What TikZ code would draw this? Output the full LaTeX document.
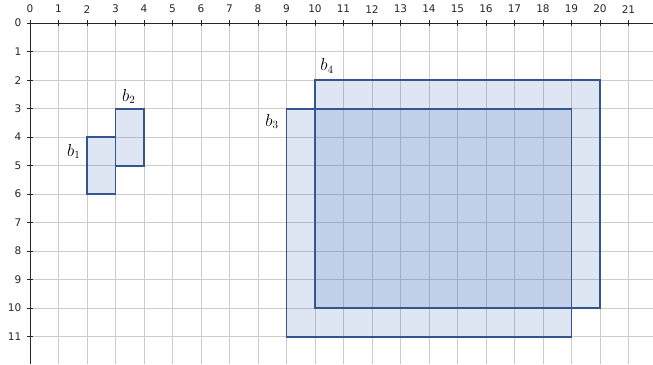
\documentclass[tikz,border=0pt]{standalone}
\usepackage{fontspec}
\newfontfamily\tickfont{DejaVu Sans}
\usetikzlibrary{positioning}
\definecolor{BoxEdge}  {HTML}{34558F}
\definecolor{BoxFill}  {HTML}{486FBC}
\definecolor{GridGray} {HTML}{CCCCCC}
\definecolor{AxisDark} {HTML}{262626}
\tikzset{
  gridln/.style={draw=GridGray, line width=0.7pt},
  axisln/.style={draw=AxisDark, line width=0.8pt},
  tck/.style={
    font=\tickfont\fontsize{10.5}{12}\selectfont, text=AxisDark,
    inner sep=1pt,
  },
  bfill/.style={fill=BoxFill, fill opacity=0.18},
  bedge/.style={draw=BoxEdge, line width=1.8pt},
  blbl/.style={font=\fontsize{16}{18}\selectfont, inner sep=0pt},
}

\begin{document}
\begin{tikzpicture}[x=1cm,y=-1cm]
    \useasboundingbox (-1.05,-0.81) rectangle (21.86,11.97);
    % grid
    \foreach \i in {0,...,21} \draw[gridln] (\i,0) -- (\i,11.97);
    \foreach \j in {0,...,11} \draw[gridln] (0,\j) -- (21.86,\j);

    % boxes
    \foreach \xa/\ya/\xb/\yb in {2/4/3/6, 3/3/4/5, 10/2/20/10, 9/3/19/11}
      \path[bfill] (\xa,\ya) rectangle (\xb,\yb);
    \foreach \xa/\ya/\xb/\yb in {2/4/3/6, 3/3/4/5, 10/2/20/10, 9/3/19/11}
      \draw[bedge] (\xa,\ya) rectangle (\xb,\yb);

    \node[blbl] (b1) at (1.54,4.5)  {$b_1$};
    \node[blbl] (b2) at (3.47,2.57) {$b_2$};
    \node[blbl] (b3) at (8.49,3.45) {$b_3$};
    \node[blbl] (b4) at (10.42,1.5) {$b_4$};

    % axes
    \draw[axisln] (0,0) -- (21.86,0);
    \draw[axisln] (0,0) -- (0,11.97);
    \foreach \i in {0,...,21}{
      \draw[axisln] (\i,-0.11) -- (\i,0.11);
      \node[tck] (tx\i) at (\i,-0.49) {\i};
    }
    \foreach \j in {0,...,11}{
      \draw[axisln] (-0.11,\j) -- (0.11,\j);
      \node[tck,anchor=east] (ty\j) at (-0.26,\j) {\j};
    }
  \end{tikzpicture}
\end{document}
